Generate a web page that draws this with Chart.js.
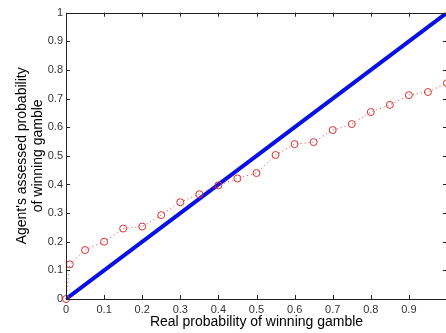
<!DOCTYPE html>
<html><head><meta charset="utf-8">
<script src="https://cdn.jsdelivr.net/npm/chart.js@4/dist/chart.umd.min.js"></script>
<style>
html,body{margin:0;padding:0;background:#fff;overflow:hidden;width:446px;height:333px;}
#wrap{position:absolute;left:0;top:0;width:452px;height:333px;}
</style></head><body>
<div id="wrap"><canvas id="c" width="452" height="333"></canvas></div>
<script>
const realProb = [0, 0.01, 0.05, 0.1, 0.15, 0.2, 0.25, 0.3, 0.35, 0.4, 0.45, 0.5, 0.55, 0.6, 0.65, 0.7, 0.75, 0.8, 0.85, 0.9, 0.95, 1.0];
const assessedProb = [0, 0.121, 0.171, 0.2, 0.246, 0.253, 0.293, 0.338, 0.366, 0.397, 0.421, 0.44, 0.503, 0.541, 0.548, 0.59, 0.611, 0.653, 0.678, 0.712, 0.723, 0.754];
const diagonalX = [0, 1];
const diagonalY = [0, 1];
const tickValues = [0, 0.1, 0.2, 0.3, 0.4, 0.5, 0.6, 0.7, 0.8, 0.9, 1];
const xTitle = 'Real probability of winning gamble';
const yTitle = ["Agent's assessed probability", 'of winning gamble'];

const fmt = v => String(Math.round(v * 10) / 10);

const framePlugin = {
  id: 'frame',
  afterDatasetsDraw(chart) {
    const {ctx, chartArea: a, scales} = chart;
    ctx.save();
    ctx.strokeStyle = '#222';
    ctx.lineWidth = 1;
    ctx.beginPath();
    ctx.rect(Math.round(a.left) + 0.5, Math.round(a.top) + 0.5, Math.round(a.right - a.left), Math.round(a.bottom - a.top));
    ctx.stroke();
    const L = 4;
    ctx.beginPath();
    tickValues.forEach(v => {
      const px = Math.round(scales.x.getPixelForValue(v)) + 0.5;
      ctx.moveTo(px, a.bottom); ctx.lineTo(px, a.bottom - L);
      ctx.moveTo(px, a.top); ctx.lineTo(px, a.top + L);
      const py = Math.round(scales.y.getPixelForValue(v)) + 0.5;
      ctx.moveTo(a.left, py); ctx.lineTo(a.left + L, py);
      ctx.moveTo(a.right, py); ctx.lineTo(a.right - L, py);
    });
    ctx.stroke();
    ctx.restore();
  }
};

new Chart(document.getElementById('c'), {
  type: 'scatter',
  data: {
    datasets: [
      {
        data: realProb.map((x, i) => ({x, y: assessedProb[i]})),
        showLine: true,
        borderColor: '#e04040',
        borderWidth: 1,
        borderDash: [1, 3],
        pointRadius: 3.5,
        pointBorderColor: '#d83030',
        pointBackgroundColor: 'rgba(0,0,0,0)',
        pointBorderWidth: 1,
        clip: false
      },
      {
        data: diagonalX.map((x, i) => ({x, y: diagonalY[i]})),
        showLine: true,
        borderColor: '#0a10e0',
        borderWidth: 4,
        pointRadius: 0
      }
    ]
  },
  options: {
    responsive: false,
    animation: false,
    devicePixelRatio: 1,
    layout: {padding: {top: 12.7, right: 1, left: 0, bottom: 0}},
    plugins: {legend: {display: false}, tooltip: {enabled: false}},
    scales: {
      x: {
        type: 'linear', min: 0, max: 1,
        grid: {display: false, drawTicks: false, tickLength: 0}, border: {display: false},
        afterBuildTicks: s => { s.ticks = tickValues.map(v => ({value: v})); },
        afterFit: s => { s.height = 34; s.paddingLeft = 0; s.paddingRight = 0; },
        ticks: {padding: 4, color: '#333', font: {family: 'Liberation Sans', size: 11}, callback: v => (v >= 1 ? '' : fmt(v)), maxRotation: 0, autoSkip: false},
        title: {display: true, text: xTitle, color: '#000', font: {family: 'Liberation Sans', size: 14}, padding: {top: 0, bottom: 2}}
      },
      y: {
        type: 'linear', min: 0, max: 1,
        grid: {display: false, drawTicks: false, tickLength: 0}, border: {display: false},
        afterBuildTicks: s => { s.ticks = tickValues.map(v => ({value: v})); },
        afterFit: s => { s.width = 66; s.paddingTop = 0; s.paddingBottom = 0; },
        ticks: {padding: 3, color: '#333', font: {family: 'Liberation Sans', size: 11}, callback: v => fmt(v), autoSkip: false},
        title: {display: true, text: yTitle, color: '#000', font: {family: 'Liberation Sans', size: 14, lineHeight: 1.15}, padding: {top: 14, bottom: 0}}
      }
    }
  },
  plugins: [framePlugin]
});
</script></body></html>
